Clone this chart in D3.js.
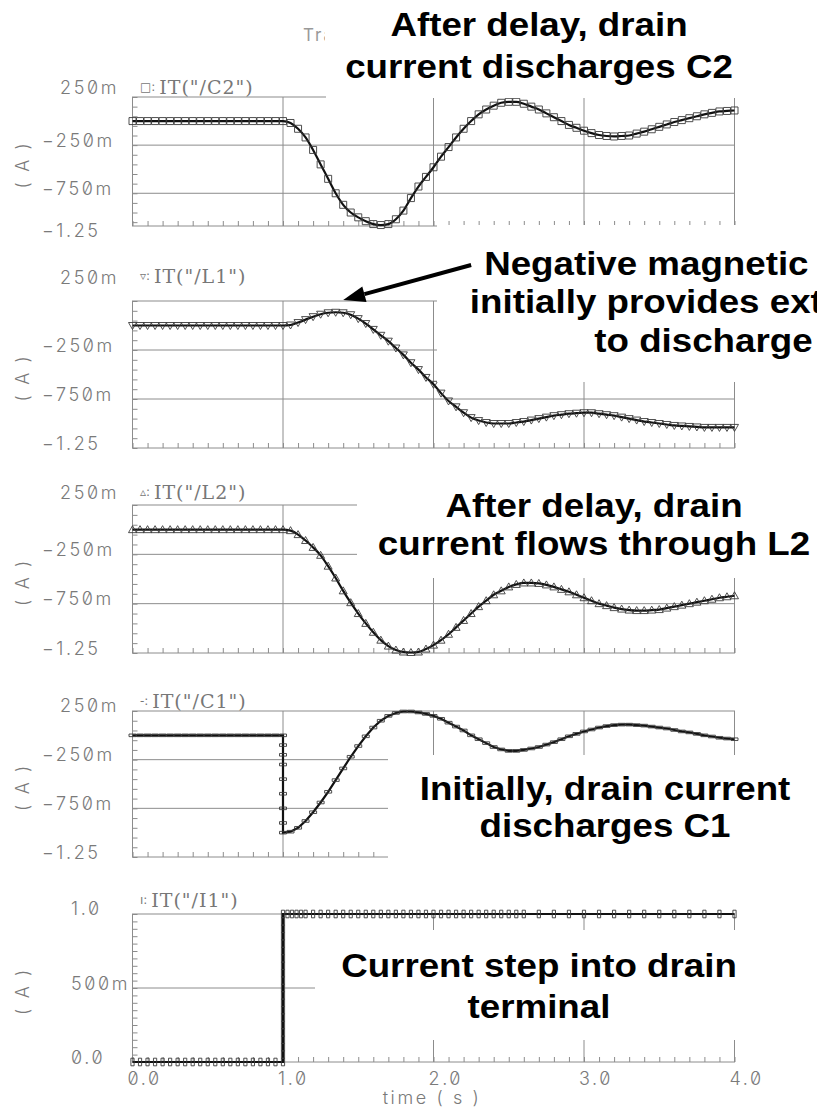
<!DOCTYPE html>
<html>
<head>
<meta charset="utf-8">
<script src="https://cdn.jsdelivr.net/npm/d3@7"></script>
<style>
  body { margin: 0; background: #fff; }
  svg { display: block; }
  .lbl { font-family: Inter, "DejaVu Sans", sans-serif; font-weight: 300; font-size: 18px; fill: #7a7a7a; letter-spacing: 2.6px; font-feature-settings: "zero" 1; }
  .ttl { font-family: "DejaVu Serif", serif; font-size: 19px; fill: #777; letter-spacing: 1px; }
  .glyph { font-family: "DejaVu Sans", sans-serif; font-size: 12px; fill: #777; }
  .note { font-family: "Liberation Sans", Arial, sans-serif; font-weight: bold; font-size: 34px; fill: #000; }
</style>
</head>
<body>
<div id="chart"></div>
<script>
// ---- data: [time (s), current (A)] ----
const c2Points = [
  [0,0],[0.05,0],[0.1,0],[0.15,0],[0.2,0],[0.25,0],[0.3,0],[0.35,0],[0.4,0],[0.45,0],[0.5,0],
  [0.55,0],[0.6,0],[0.65,0],[0.7,0],[0.75,0],[0.8,0],[0.85,0],[0.9,0],[0.95,0],[1.0,0],
  [1.05,-0.02],[1.1,-0.08],[1.15,-0.17],[1.2,-0.3],[1.25,-0.45],[1.3,-0.6],[1.35,-0.75],[1.4,-0.87],
  [1.45,-0.95],[1.5,-1.0],[1.55,-1.04],[1.6,-1.07],[1.65,-1.08],[1.7,-1.07],[1.75,-1.02],[1.8,-0.93],
  [1.85,-0.8],[1.9,-0.68],[1.95,-0.58],[2.0,-0.48],[2.05,-0.37],[2.1,-0.27],[2.15,-0.17],[2.2,-0.08],
  [2.25,0.0],[2.3,0.07],[2.35,0.12],[2.4,0.16],[2.45,0.19],[2.5,0.2],[2.55,0.2],[2.6,0.18],[2.65,0.15],
  [2.7,0.12],[2.75,0.08],[2.8,0.04],[2.85,0.0],[2.9,-0.04],[2.95,-0.07],[3.0,-0.1],[3.05,-0.125],
  [3.1,-0.145],[3.15,-0.155],[3.2,-0.16],[3.25,-0.155],[3.3,-0.15],[3.35,-0.13],[3.4,-0.11],[3.45,-0.085],
  [3.5,-0.06],[3.55,-0.035],[3.6,-0.01],[3.65,0.01],[3.7,0.03],[3.75,0.05],[3.8,0.07],[3.85,0.085],
  [3.9,0.1],[3.95,0.105],[4.0,0.11]
];

const l1Points = [
  [0,0],[0.05,0],[0.1,0],[0.15,0],[0.2,0],[0.25,0],[0.3,0],[0.35,0],[0.4,0],[0.45,0],[0.5,0],
  [0.55,0],[0.6,0],[0.65,0],[0.7,0],[0.75,0],[0.8,0],[0.85,0],[0.9,0],[0.95,0],[1.0,0],
  [1.05,0.005],[1.1,0.03],[1.15,0.06],[1.2,0.09],[1.25,0.115],[1.3,0.13],[1.35,0.135],[1.4,0.13],
  [1.45,0.11],[1.5,0.07],[1.55,0.02],[1.6,-0.04],[1.65,-0.1],[1.7,-0.16],[1.75,-0.23],[1.8,-0.3],
  [1.85,-0.38],[1.9,-0.45],[1.95,-0.53],[2.0,-0.6],[2.05,-0.69],[2.1,-0.77],[2.15,-0.83],[2.2,-0.89],
  [2.25,-0.94],[2.3,-0.97],[2.35,-0.99],[2.4,-1.0],[2.45,-1.0],[2.5,-1.0],[2.55,-0.99],[2.6,-0.98],
  [2.65,-0.965],[2.7,-0.95],[2.75,-0.935],[2.8,-0.92],[2.85,-0.91],[2.9,-0.9],[2.95,-0.895],[3.0,-0.89],
  [3.05,-0.89],[3.1,-0.9],[3.15,-0.91],[3.2,-0.92],[3.25,-0.935],[3.3,-0.95],[3.35,-0.965],[3.4,-0.98],
  [3.45,-0.99],[3.5,-1.0],[3.55,-1.01],[3.6,-1.02],[3.65,-1.025],[3.7,-1.03],[3.75,-1.035],[3.8,-1.04],
  [3.85,-1.04],[3.9,-1.04],[3.95,-1.04],[4.0,-1.04]
];

const l2Points = [
  [0,0],[0.05,0],[0.1,0],[0.15,0],[0.2,0],[0.25,0],[0.3,0],[0.35,0],[0.4,0],[0.45,0],[0.5,0],
  [0.55,0],[0.6,0],[0.65,0],[0.7,0],[0.75,0],[0.8,0],[0.85,0],[0.9,0],[0.95,0],[1.0,0],
  [1.05,-0.01],[1.1,-0.05],[1.15,-0.11],[1.2,-0.18],[1.25,-0.26],[1.3,-0.37],[1.35,-0.49],[1.4,-0.62],
  [1.45,-0.74],[1.5,-0.85],[1.55,-0.95],[1.6,-1.04],[1.65,-1.12],[1.7,-1.18],[1.75,-1.22],[1.8,-1.24],
  [1.85,-1.245],[1.9,-1.24],[1.95,-1.21],[2.0,-1.17],[2.05,-1.12],[2.1,-1.06],[2.15,-0.99],[2.2,-0.92],
  [2.25,-0.85],[2.3,-0.78],[2.35,-0.72],[2.4,-0.66],[2.45,-0.62],[2.5,-0.58],[2.55,-0.555],[2.6,-0.54],
  [2.65,-0.54],[2.7,-0.545],[2.75,-0.56],[2.8,-0.58],[2.85,-0.605],[2.9,-0.63],[2.95,-0.66],[3.0,-0.69],
  [3.05,-0.72],[3.1,-0.75],[3.15,-0.77],[3.2,-0.79],[3.25,-0.805],[3.3,-0.815],[3.35,-0.82],[3.4,-0.82],
  [3.45,-0.815],[3.5,-0.81],[3.55,-0.795],[3.6,-0.78],[3.65,-0.765],[3.7,-0.75],[3.75,-0.735],[3.8,-0.72],
  [3.85,-0.705],[3.9,-0.69],[3.95,-0.68],[4.0,-0.67]
];

const c1Points = [
  [0,0],[0.05,0],[0.1,0],[0.15,0],[0.2,0],[0.25,0],[0.3,0],[0.35,0],[0.4,0],[0.45,0],[0.5,0],
  [0.55,0],[0.6,0],[0.65,0],[0.7,0],[0.75,0],[0.8,0],[0.85,0],[0.9,0],[0.95,0],[1.0,0],
  [1.0,-0.1],[1.0,-0.2],[1.0,-0.3],[1.0,-0.45],[1.0,-0.6],[1.0,-0.75],[1.0,-0.9],[1.0,-1.0],
  [1.05,-0.99],[1.1,-0.95],[1.15,-0.88],[1.2,-0.79],[1.25,-0.69],[1.3,-0.58],[1.35,-0.46],[1.4,-0.34],
  [1.45,-0.22],[1.5,-0.11],[1.55,-0.01],[1.6,0.08],[1.65,0.15],[1.7,0.2],[1.75,0.23],[1.8,0.245],
  [1.85,0.245],[1.9,0.235],[1.95,0.22],[2.0,0.2],[2.05,0.17],[2.1,0.13],[2.15,0.09],[2.2,0.05],
  [2.25,0.0],[2.3,-0.04],[2.35,-0.08],[2.4,-0.12],[2.45,-0.145],[2.5,-0.16],[2.55,-0.16],[2.6,-0.15],
  [2.65,-0.135],[2.7,-0.12],[2.75,-0.095],[2.8,-0.07],[2.85,-0.04],[2.9,-0.01],[2.95,0.015],[3.0,0.04],
  [3.05,0.06],[3.1,0.08],[3.15,0.095],[3.2,0.105],[3.25,0.11],[3.3,0.11],[3.35,0.105],[3.4,0.1],
  [3.45,0.09],[3.5,0.08],[3.55,0.07],[3.6,0.055],[3.65,0.04],[3.7,0.03],[3.75,0.015],[3.8,0.0],
  [3.85,-0.012],[3.9,-0.025],[3.95,-0.033],[4.0,-0.04]
];

const i1Points = [
  [0,0],[0.05,0],[0.1,0],[0.15,0],[0.2,0],[0.25,0],[0.3,0],[0.35,0],[0.4,0],[0.45,0],[0.5,0],
  [0.55,0],[0.6,0],[0.65,0],[0.7,0],[0.75,0],[0.8,0],[0.85,0],[0.9,0],[0.95,0],[1.0,0],
  [1.0,0.05],[1.0,0.1],[1.0,0.15],[1.0,0.2],[1.0,0.25],[1.0,0.3],[1.0,0.35],[1.0,0.4],[1.0,0.45],
  [1.0,0.5],[1.0,0.55],[1.0,0.6],[1.0,0.65],[1.0,0.7],[1.0,0.75],[1.0,0.8],[1.0,0.85],[1.0,0.9],
  [1.0,0.95],[1.0,1.0],
  [1.03,1],[1.06,1],[1.09,1],[1.12,1],[1.15,1],[1.2,1],[1.25,1],[1.3,1],[1.35,1],[1.4,1],[1.45,1],
  [1.5,1],[1.55,1],[1.6,1],[1.65,1],[1.7,1],[1.75,1],[1.8,1],[1.85,1],[1.9,1],[1.95,1],[2.0,1],
  [2.05,1],[2.1,1],[2.15,1],[2.2,1],[2.25,1],[2.3,1],[2.35,1],[2.4,1],[2.45,1],[2.5,1],[2.55,1],
  [2.6,1],[2.7,1],[2.8,1],[2.9,1],[3.0,1],[3.1,1],[3.2,1],[3.3,1],[3.4,1],[3.5,1],[3.6,1],[3.7,1],
  [3.8,1],[3.9,1],[4.0,1]
];

// tick labels
const currentTickValues = [0.25, -0.25, -0.75, -1.25];
const currentTickLabels = ["250m", "\u2212250m", "\u2212750m", "\u22121.25"];
const currentGridValues = [-0.25, -0.75];
const stepTickValues = [1.0, 0.5, 0.0];
const stepTickLabels = ["1.0", "500m", "0.0"];
const stepGridValues = [0.5];
const timeTickValues = [0, 1, 2, 3, 4];
const timeTickLabels = ["0.0", "1.0", "2.0", "3.0", "4.0"];
const timeGridValues = [1, 2, 3];

const width = 817, height = 1111;
const gridColor = "#8c8c8c";

const svg = d3.select("#chart")
    .append("svg")
    .attr("width", width)
    .attr("height", height);

const x = d3.scaleLinear().domain([0, 4]).range([132.5, 734.5]);

// marker shapes, centred on the data point
const markerPaths = {
    square: "M-3.5,-3.5h7v7h-7z",
    triDown: "M-4,-3L4,-3L0,4Z",
    triUp: "M-4,3L4,3L0,-4Z",
    dash: "M-3.5,-1.3h7v2.6h-7z",
    bar: "M-1.6,-3.8h3.2v7.6h-3.2z"
};

const panels = [
    { glyph: "\u25A1", title: "IT(\"/C2\")", points: c2Points, marker: "square", top: 97, bottom: 226,
      domain: [-1.09, 0.25], headY: 87, topLabelY: 87, curve: d3.curveMonotoneX, step: false },
    { glyph: "\u25BF", title: "IT(\"/L1\")", points: l1Points, marker: "triDown", top: 301, bottom: 448,
      domain: [-1.25, 0.25], headY: 276, topLabelY: 277, curve: d3.curveMonotoneX, step: false },
    { glyph: "\u25B5", title: "IT(\"/L2\")", points: l2Points, marker: "triUp", top: 505, bottom: 653,
      domain: [-1.25, 0.25], headY: 492, topLabelY: 492, curve: d3.curveMonotoneX, step: false },
    { glyph: "-", title: "IT(\"/C1\")", points: c1Points, marker: "dash", top: 711, bottom: 857,
      domain: [-1.25, 0.25], headY: 701, topLabelY: 705, curve: d3.curveLinear, step: false },
    { glyph: "\u0131", title: "IT(\"/I1\")", points: i1Points, marker: "bar", top: 914, bottom: 1062,
      domain: [0, 1], headY: 900, topLabelY: 908, curve: d3.curveLinear, step: true }
];

// faint window title, mostly hidden behind the first note
svg.append("clipPath")
    .attr("id", "title-clip")
    .append("rect")
    .attr("x", 290).attr("y", 20).attr("width", 35).attr("height", 30);

svg.append("text")
    .attr("x", 303)
    .attr("y", 41)
    .attr("clip-path", "url(#title-clip)")
    .attr("font-family", "Inter, sans-serif")
    .attr("font-size", "17px")
    .attr("letter-spacing", "2px")
    .attr("fill", "#999")
    .text("Transient Response");

panels.forEach(p => {
    const y = d3.scaleLinear().domain(p.domain).range([p.bottom, p.top]);
    const g = svg.append("g");

    const gridVals = p.step ? stepGridValues : currentGridValues;

    // grid
    g.selectAll(".vgrid")
        .data(timeGridValues)
        .join("line")
        .attr("x1", d => x(d)).attr("x2", d => x(d))
        .attr("y1", p.top).attr("y2", p.bottom)
        .attr("stroke", gridColor).attr("stroke-width", 1);

    g.selectAll(".hgrid")
        .data(gridVals)
        .join("line")
        .attr("x1", x(0)).attr("x2", x(4))
        .attr("y1", d => y(d)).attr("y2", d => y(d))
        .attr("stroke", gridColor).attr("stroke-width", 1);

    g.append("rect")
        .attr("x", x(0))
        .attr("y", p.top)
        .attr("width", x(4) - x(0))
        .attr("height", p.bottom - p.top)
        .attr("fill", "none")
        .attr("stroke", gridColor);

    // minor ticks, pointing into the plot
    const minorStep = p.step ? 0.05 : 0.1;
    const minorStart = p.step ? 0 : -1.25;
    const minorTicks = d3.range(minorStart, p.domain[1] + 0.001, minorStep)
        .filter(v => v >= p.domain[0] - 0.001);

    g.append("g")
        .attr("transform", `translate(${x(0)},0)`)
        .call(d3.axisRight(y).tickValues(minorTicks).tickSize(5).tickFormat(""))
        .call(a => a.select(".domain").remove())
        .call(a => a.selectAll("line").attr("stroke", gridColor));

    g.append("g")
        .attr("transform", `translate(0,${p.bottom})`)
        .call(d3.axisTop(x).tickValues(d3.range(0, 4.001, 0.1)).tickSize(5).tickFormat(""))
        .call(a => a.select(".domain").remove())
        .call(a => a.selectAll("line").attr("stroke", gridColor));

    // trace
    const line = d3.line()
        .x(d => x(d[0]))
        .y(d => y(d[1]))
        .curve(p.curve);

    g.append("path")
        .datum(p.points)
        .attr("d", line)
        .attr("fill", "none")
        .attr("stroke", "#111")
        .attr("stroke-width", 2.2);

    g.selectAll(".mk")
        .data(p.points)
        .join("path")
        .attr("transform", d => `translate(${x(d[0])},${y(d[1])})`)
        .attr("d", markerPaths[p.marker])
        .attr("fill", "none")
        .attr("stroke", "#3a3a3a")
        .attr("stroke-width", 0.9);

    // trace title
    const title = g.append("text")
        .attr("x", 140)
        .attr("y", p.headY)
        .attr("dominant-baseline", "central");
    title.append("tspan").attr("class", "glyph").text(p.glyph + ": ");
    title.append("tspan").attr("class", "ttl").text(p.title);

    // y tick labels
    const tv = p.step ? stepTickValues : currentTickValues;
    const tl = p.step ? stepTickLabels : currentTickLabels;
    g.selectAll(".ylab")
        .data(tv)
        .join("text")
        .attr("class", "lbl")
        .attr("x", d => p.step ? 71 : (d < 0 ? 42 : 60))
        .attr("y", (d, i) => i === 0 ? p.topLabelY : Math.min(y(d) - 5, p.bottom + 4))
        .attr("dominant-baseline", "central")
        .text((d, i) => tl[i]);

    // unit label
    g.append("text")
        .attr("class", "lbl")
        .attr("transform", `translate(22,${(p.top + p.bottom) / 2 + 3}) rotate(-90)`)
        .attr("text-anchor", "middle")
        .attr("dominant-baseline", "central")
        .text("( A )");

    if (p.step) {
        g.selectAll(".xlab")
            .data(timeTickValues)
            .join("text")
            .attr("class", "lbl")
            .attr("x", d => x(d) - 5)
            .attr("y", p.bottom + 16)
            .attr("dominant-baseline", "central")
            .text((d, i) => timeTickLabels[i]);

        g.append("text")
            .attr("class", "lbl")
            .attr("x", 432)
            .attr("y", p.bottom + 35)
            .attr("text-anchor", "middle")
            .attr("dominant-baseline", "central")
            .text("time ( s )");
    }
    p.y = y;
});

// annotations, each on a white card that hides the plot behind it
const notes = [
    { lines: ["After delay, drain", "current discharges C2"], cx: 539, y0: 36, dy: 42, box: [326, 0, 432, 98] },
    { lines: ["Negative magnetic flux in L1", "initially provides extra current", "to discharge C2"],
      cx: 732, y0: 275, dy: 38.5, box: [437, 225, 380, 157] },
    { lines: ["After delay, drain", "current flows through L2"], cx: 594, y0: 517, dy: 38, box: [357, 470, 460, 108] },
    { lines: ["Initially, drain current", "discharges C1"], cx: 605, y0: 800, dy: 37, box: [388, 755, 429, 107] },
    { lines: ["Current step into drain", "terminal"], cx: 539, y0: 977, dy: 41, box: [315, 930, 448, 110] }
];

notes.forEach(n => {
    svg.append("rect")
        .attr("x", n.box[0]).attr("y", n.box[1])
        .attr("width", n.box[2]).attr("height", n.box[3])
        .attr("fill", "#fff");
    const t = svg.append("g")
        .attr("transform", `translate(${n.cx},0) scale(1.08,1)`);
    t.selectAll("text")
        .data(n.lines)
        .join("text")
        .attr("class", "note")
        .attr("x", 0)
        .attr("y", (d, i) => n.y0 + i * n.dy)
        .attr("text-anchor", "middle")
        .text(d => d);
});

// arrow pointing at the hump of IT("/L1")
const yL1 = panels[1].y;
const tip = [x(1.4), yL1(0.25) - 1];
const tail = [x(2.25), yL1(0.25) - 36];
const ang = Math.atan2(tip[1] - tail[1], tip[0] - tail[0]);
const headLen = 22, headHalf = 8;
const base = [tip[0] - headLen * Math.cos(ang), tip[1] - headLen * Math.sin(ang)];
svg.append("line")
    .attr("x1", tail[0]).attr("y1", tail[1])
    .attr("x2", base[0]).attr("y2", base[1])
    .attr("stroke", "#000").attr("stroke-width", 4);
svg.append("path")
    .attr("d", `M${tip[0]},${tip[1]}L${base[0] + headHalf * Math.sin(ang)},${base[1] - headHalf * Math.cos(ang)}L${base[0] - headHalf * Math.sin(ang)},${base[1] + headHalf * Math.cos(ang)}Z`)
    .attr("fill", "#000");
</script>
</body>
</html>
